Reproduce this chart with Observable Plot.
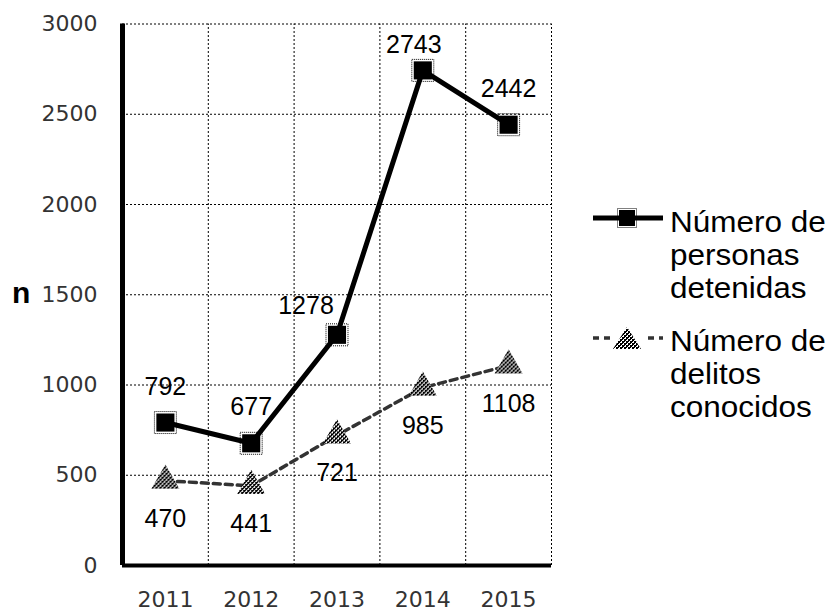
<!DOCTYPE html>
<html>
<head>
<meta charset="utf-8">
<script src="https://cdn.jsdelivr.net/npm/d3@7"></script>
<script src="https://cdn.jsdelivr.net/npm/@observablehq/plot@0.6"></script>
<style>
  html, body { margin: 0; padding: 0; background: #fff; }
  #wrap { position: relative; width: 829px; height: 613px; overflow: hidden; }
  .leg { position: absolute; left: 670px; font-family: "Liberation Sans", Arial, sans-serif; font-size: 30px; line-height: 33px; color: #000; white-space: nowrap; transform: scaleX(1.05); transform-origin: left top; }
  #nlab { position: absolute; left: 12px; top: 276px; font-family: "Liberation Sans", Arial, sans-serif; font-weight: bold; font-size: 30px; color: #000; }
  .sym { position: absolute; left: 588px; }
</style>
</head>
<body>
<div id="wrap"></div>
<script>
const years = [2011, 2012, 2013, 2014, 2015];
const detenidas = [792, 677, 1278, 2743, 2442];
const delitos = [470, 441, 721, 985, 1108];
const yTicks = [0, 500, 1000, 1500, 2000, 2500, 3000];
const legendLabels = [["Número de", "personas", "detenidas"], ["Número de", "delitos", "conocidos"]];

const rowsDet = years.map((year, i) => ({year, value: detenidas[i]}));
const rowsDel = years.map((year, i) => ({year, value: delitos[i]}));
const gridX = years.map(y => y + 0.5);

const labelFont = {fontFamily: "Liberation Sans, Arial, sans-serif", fontSize: 25, fill: "#000"};
const isShifted = d => d.year === 2013 || d.year === 2014;

const chart = Plot.plot({
  width: 829,
  height: 613,
  marginLeft: 122,
  marginRight: 278,
  marginTop: 23.5,
  marginBottom: 48,
  style: {fontFamily: "DejaVu Sans, sans-serif", fontSize: "22px", color: "#333", background: "transparent", overflow: "visible"},
  x: {type: "linear", domain: [2010.5, 2015.5], ticks: years, tickSize: 0, tickPadding: 26, tickFormat: d => String(d), label: null},
  y: {domain: [0, 3000], ticks: yTicks, tickSize: 0, tickPadding: 25, tickFormat: d => String(d), label: null},
  marks: [
    Plot.ruleY(yTicks.filter(d => d > 0), {stroke: "#000", strokeWidth: 1, strokeDasharray: "2,2"}),
    Plot.ruleX(gridX, {y1: 0, y2: 3000, stroke: "#000", strokeWidth: 1, strokeDasharray: "2,2"}),
    Plot.ruleX([2010.5], {y1: 0, y2: 3000, stroke: "#000", strokeWidth: 5}),
    Plot.ruleY([0], {stroke: "#000", strokeWidth: 4}),
    Plot.line(rowsDel, {x: "year", y: "value", stroke: "#333", strokeWidth: 3.5, strokeDasharray: "7,5"}),
    Plot.line(rowsDet, {x: "year", y: "value", stroke: "#000", strokeWidth: 5}),
    Plot.dot(rowsDet, {x: "year", y: "value", symbol: "square", r: 12.4, fill: "none", stroke: "#000", strokeWidth: 1, strokeDasharray: "1,1"}),
    Plot.dot(rowsDet, {x: "year", y: "value", symbol: "square", r: 10.2, fill: "#000", stroke: "none"}),
    Plot.dot(rowsDel, {x: "year", y: "value", symbol: "triangle", r: 10.4, fill: "url(#chk)", stroke: "none"}),
    Plot.text(rowsDet.filter(d => !isShifted(d)), {x: "year", y: "value", text: d => String(d.value), dy: -36, ...labelFont}),
    Plot.text(rowsDet.filter(d => d.year === 2013), {x: "year", y: "value", text: d => String(d.value), dx: -31, dy: -29, ...labelFont}),
    Plot.text(rowsDet.filter(d => d.year === 2014), {x: "year", y: "value", text: d => String(d.value), dx: -9, dy: -25, ...labelFont}),
    Plot.text(rowsDel, {x: "year", y: "value", text: d => String(d.value), dy: 38, ...labelFont})
  ]
});

// checker pattern used by the triangles
const ns = "http://www.w3.org/2000/svg";
const defs = document.createElementNS(ns, "defs");
defs.innerHTML = '<pattern id="chk" width="4" height="4" patternUnits="userSpaceOnUse">' +
  '<rect width="4" height="4" fill="#fff"/><rect width="2" height="2" fill="#000"/><rect x="2" y="2" width="2" height="2" fill="#000"/>' +
  '<rect x="2" y="0" width="1" height="1" fill="#000"/><rect x="0" y="2" width="1" height="1" fill="#000"/></pattern>';
chart.insertBefore(defs, chart.firstChild);

const wrap = document.getElementById("wrap");
wrap.appendChild(chart);

// y-axis title
const n = document.createElement("div");
n.id = "nlab";
n.textContent = "n";
wrap.appendChild(n);

// legend
const tops = [205, 324];
legendLabels.forEach((lines, i) => {
  const div = document.createElement("div");
  div.className = "leg";
  div.style.top = tops[i] + "px";
  div.innerHTML = lines.join("<br>");
  wrap.appendChild(div);
});

const sym1 = document.createElementNS(ns, "svg");
sym1.setAttribute("class", "sym");
sym1.setAttribute("width", 80);
sym1.setAttribute("height", 30);
sym1.style.top = "203px";
sym1.innerHTML = '<line x1="5" x2="75" y1="15" y2="15" stroke="#000" stroke-width="5"/>' +
  '<rect x="31" y="7" width="16" height="16" fill="#000"/>' +
  '<rect x="29.5" y="5.5" width="19" height="19" fill="none" stroke="#000" stroke-width="1" stroke-dasharray="1,1"/>';
wrap.appendChild(sym1);

const sym2 = document.createElementNS(ns, "svg");
sym2.setAttribute("class", "sym");
sym2.setAttribute("width", 80);
sym2.setAttribute("height", 30);
sym2.style.top = "323px";
sym2.innerHTML = '<line x1="5" x2="75" y1="15" y2="15" stroke="#333" stroke-width="3.5" stroke-dasharray="6,5"/>' +
  '<rect x="23" y="4" width="32" height="22" fill="#fff"/>' +
  '<path d="M39,4 L53,26 L25,26 Z" fill="url(#chk)"/>';
wrap.appendChild(sym2);
</script>
</body>
</html>
